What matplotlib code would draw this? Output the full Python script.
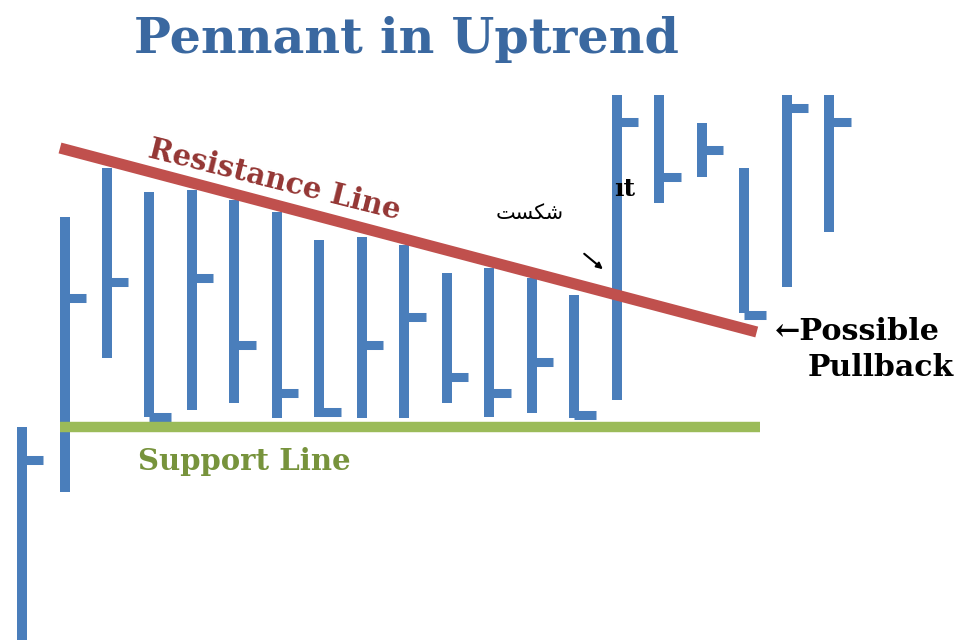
import matplotlib
matplotlib.use("Agg")
import matplotlib.pyplot as plt
import numpy as np

# OHLC-style bars: high, low and closing tick for each session
bar_index = list(range(20))
highs  = [41.6, 62.6, 67.5, 65.1, 65.3, 64.3, 63.1, 60.3, 60.6, 59.8,
          57.0, 57.5, 56.5, 54.8, 74.8, 74.8, 72.0, 67.5, 74.8, 74.8]
lows   = [20.3, 35.1, 48.5, 42.6, 43.3, 44.0, 42.5, 42.6, 42.5, 42.5,
          44.0, 42.6, 43.0, 42.5, 44.3, 64.0, 66.6, 53.0, 55.6, 61.1]
closes = [38.3, 54.5, 56.1, 42.6, 56.5, 49.8, 45.0, 43.1, 49.8, 52.6,
          46.6, 45.0, 48.1, 42.8, 72.1, 66.6, 69.3, 52.8, 73.5, 72.1]

# Trend lines (start/end index, start/end price)
resistance_x = [0.894, 17.29]
resistance_y = [69.5, 51.1]
support_x = [0.894, 17.36]
support_y = [41.6, 41.6]

title_text = "Pennant in Uptrend"

BLUE = "#4A7EBB"
RED = "#C0504D"
GREEN = "#9BBB59"
SERIF = ["DejaVu Serif"]

fig = plt.figure(figsize=(9.59, 6.43), dpi=100)
ax = fig.add_axes([0, 0, 1, 1])
ax.set_xlim(-0.518, 22.05)
ax.set_ylim(20.0, 84.3)
ax.axis("off")

# price bars
ax.vlines(bar_index, lows, highs, colors=BLUE, linewidth=7.2,
          capstyle="butt", zorder=3)
tick_len = 0.5
ax.hlines(closes, bar_index, [i + tick_len for i in bar_index],
          colors=BLUE, linewidth=6.5, capstyle="butt", zorder=3)

# trend lines
ax.plot(support_x, support_y, color=GREEN, linewidth=7.5,
        solid_capstyle="butt", zorder=4)
ax.plot(resistance_x, resistance_y, color=RED, linewidth=8,
        solid_capstyle="butt", zorder=4)

# labels
fig.text(0.424, 0.917, title_text, ha="center", va="baseline",
         fontsize=35.5, fontweight="bold", color="#3A68A0", family=SERIF)

ax.text(5.95, 66.3, "Resistance Line", rotation=-14, rotation_mode="anchor",
        ha="center", va="center", fontsize=21, fontweight="bold",
        color="#943634", family=SERIF, zorder=5)
ax.text(5.22, 38.2, "Support Line", ha="center", va="center",
        fontsize=21, fontweight="bold", color="#77933C", family=SERIF)

ax.text(17.72, 51.2, "\u2190Possible", ha="left", va="center",
        fontsize=21.8, fontweight="bold", color="black", family=SERIF)
ax.text(18.49, 47.5, "Pullback", ha="left", va="center",
        fontsize=21.5, fontweight="bold", color="black", family=SERIF)

# Persian word "break" (shekast) in presentation forms, visual order
ax.text(11.95, 63.0, "\uFE96\uFEB4\uFB91\uFEB7", ha="center", va="center",
        fontsize=15, color="black", family=["DejaVu Sans"])
ax.text(14.42, 65.4, "\u0131t", ha="right", va="center", fontsize=18,
        fontweight="bold", color="black", family=SERIF, zorder=5)
ax.annotate("", xy=(13.72, 57.2), xytext=(13.18, 59.1),
            arrowprops=dict(arrowstyle="-|>", color="black", lw=1.5,
                            mutation_scale=9), zorder=5)

fig.savefig("out.png", dpi=100, facecolor="white")
